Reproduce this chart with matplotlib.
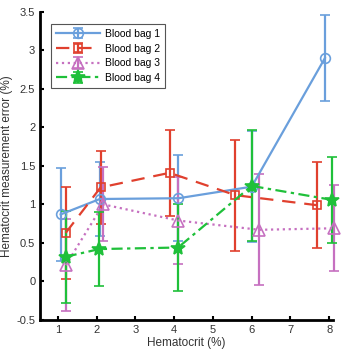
import matplotlib
matplotlib.use("Agg")
import matplotlib.pyplot as plt

plt.rcParams['font.family'] = ['Liberation Sans', 'DejaVu Sans']

# hematocrit positions (slightly shifted per bag in the original)
hct_bag1 = [1.07, 2.08, 4.11, 6.0, 7.89]
hct_bag2 = [1.2, 2.1, 3.88, 5.58, 7.68]
hct_bag3 = [1.2, 2.17, 4.11, 6.2, 8.13]
hct_bag4 = [1.2, 2.07, 4.1, 6.0, 8.06]

err_bag1 = [0.87, 1.07, 1.08, 1.23, 2.90]
err_bag2 = [0.63, 1.22, 1.41, 1.12, 0.99]
err_bag3 = [0.21, 1.00, 0.79, 0.67, 0.69]
err_bag4 = [0.32, 0.42, 0.44, 1.24, 1.06]

sd = [0.6, 0.48, 0.56, 0.72, 0.56]

labels = ["Blood bag 1", "Blood bag 2", "Blood bag 3", "Blood bag 4"]
xticks = [1, 2, 3, 4, 5, 6, 7, 8]
yticks = [-0.5, 0, 0.5, 1, 1.5, 2, 2.5, 3, 3.5]

fig = plt.figure(figsize=(3.43, 3.5), dpi=100)
ax = fig.add_axes([0.117, 0.086, 0.854, 0.88])

series = [
    (hct_bag1, err_bag1, "#6a9fdc", "-", "o", "none", 7),
    (hct_bag2, err_bag2, "#e0402e", (0, (6, 4)), "s", "none", 6),
    (hct_bag3, err_bag3, "#c670c0", ":", "^", "none", 8),
    (hct_bag4, err_bag4, "#1fc03a", (0, (5, 2, 1.5, 2)), "*", "#1fc03a", 10),
]

for (x, y, c, ls, m, fc, ms), lab in zip(series, labels):
    eb = ax.errorbar(x, y, yerr=sd, color=c, ls=ls, lw=1.6, marker=m,
                     mfc=fc, mec=c, ms=ms, mew=1.2, capsize=3.5,
                     elinewidth=1.6, capthick=1.6, label=lab)
    for art in eb.get_children():
        art.set_clip_on(False)

ax.set_xlim(0.54, 8.1)
ax.set_ylim(-0.5, 3.5)
ax.set_xticks(xticks)
ax.set_xticklabels([str(t) for t in xticks])
ax.set_yticks(yticks)
ax.set_yticklabels(["-0.5", "0", "0.5", "1", "1.5", "2", "2.5", "3", "3.5"])
ax.tick_params(direction="in", length=3, width=1.5, labelsize=8,
               colors="black", labelcolor="#333333")
ax.tick_params(axis="x", pad=4)

for s in ["top", "right"]:
    ax.spines[s].set_visible(False)
for s in ["left", "bottom"]:
    ax.spines[s].set_linewidth(2)

ax.set_xlabel("Hematocrit (%)", fontsize=8.5, color="#333333", labelpad=1)
ax.set_ylabel("Hematocrit measurement error (%)", fontsize=8.5,
              color="#333333", labelpad=2)

leg = ax.legend(loc="upper left", bbox_to_anchor=(0.038, 0.96), fontsize=7.5,
                fancybox=False, edgecolor="#555555", framealpha=1,
                handlelength=4.2, borderpad=0.45, labelspacing=0.45,
                handletextpad=0.5, borderaxespad=0)
leg.get_frame().set_linewidth(0.8)

fig.savefig("out.png", dpi=100)
